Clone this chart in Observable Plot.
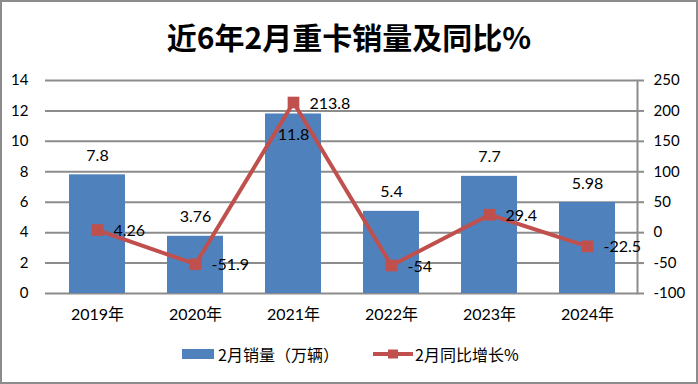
<!DOCTYPE html>
<html><head><meta charset="utf-8">
<script src="https://cdn.jsdelivr.net/npm/d3@7"></script>
<script src="https://cdn.jsdelivr.net/npm/@observablehq/plot@0.6"></script>
<style>
body{margin:0;background:#fff;}
#wrap{position:relative;width:698px;height:384px;overflow:hidden;background:#fff;font-family:Lato,"Noto Sans CJK SC",sans-serif;color:#000;}
#frame{position:absolute;left:0;top:0;width:698px;height:384px;box-sizing:border-box;border:2px solid #8c8c8c;pointer-events:none;}
#title{position:absolute;left:0;top:0;width:698px;height:72px;line-height:72px;text-align:center;font-family:"Noto Sans CJK SC",sans-serif;font-weight:bold;font-size:30px;}
#chart{position:absolute;left:0;top:60px;}
#legend{position:absolute;left:0;top:340px;width:698px;height:28px;font-family:"Noto Sans CJK SC",sans-serif;font-size:16px;}
.item{position:absolute;top:0;height:28px;line-height:28px;display:flex;align-items:center;white-space:nowrap;}
</style></head>
<body>
<div id="wrap">
  <div id="title">近6年2月重卡销量及同比%</div>
  <div id="chart"></div>
  <div id="legend"></div>
  <div id="frame"></div>
</div>
<script>
const years = ["2019年","2020年","2021年","2022年","2023年","2024年"];
const sales = [7.8, 3.76, 11.8, 5.4, 7.7, 5.98];
const growth = [4.26, -51.9, 213.8, -54, 29.4, -22.5];
const leftTicks = [0, 2, 4, 6, 8, 10, 12, 14];
const rightTicks = [-100, -50, 0, 50, 100, 150, 200, 250];
const seriesNames = ["2月销量（万辆）", "2月同比增长%"];
const barColor = "#4F81BD";
const lineColor = "#C0504D";
const gridColor = "#8c8c8c";

const toLeft = d3.scaleLinear([-100, 250], [0, 14]);
const rows = years.map((y, i) => ({year: y, sales: sales[i], growth: growth[i], g: toLeft(growth[i])}));

const chart = Plot.plot({
  width: 698,
  height: 280,
  marginTop: 20,
  marginBottom: 47,
  marginLeft: 47,
  marginRight: 61,
  style: {fontFamily: 'Lato, "Noto Sans CJK SC", sans-serif', fontSize: "15px", color: "#000", background: "transparent"},
  x: {domain: years, paddingInner: 0.43, paddingOuter: 0.215, label: null},
  y: {domain: [0, 14], label: null},
  marks: [
    Plot.ruleY(leftTicks, {stroke: gridColor, strokeWidth: 2, insetLeft: -2}),
    Plot.frame({anchor: "right", stroke: gridColor, strokeWidth: 2}),
    Plot.barY(rows, {x: "year", y: "sales", fill: barColor}),
    Plot.line(rows, {x: "year", y: "g", stroke: lineColor, strokeWidth: 4}),
    Plot.dot(rows, {x: "year", y: "g", symbol: "square", r: 6.6, fill: lineColor, stroke: null}),
    Plot.text(rows.filter(d => d.sales < 10), {x: "year", y: "sales", text: d => String(d.sales), dy: -19, fontSize: 16, fill: "#000"}),
    Plot.text(rows.filter(d => d.sales >= 10), {x: "year", y: "sales", text: d => String(d.sales), dy: 21, fontSize: 16, fill: "#000"}),
    Plot.text(rows, {x: "year", y: "g", text: d => String(d.growth), textAnchor: "start", dx: 16, dy: 1, fontSize: 16, fill: "#000"}),
    Plot.axisY({anchor: "left", ticks: leftTicks, tickSize: 0, tickPadding: 19, tickFormat: d => String(d), fontSize: 15, label: null}),
    Plot.axisY({anchor: "right", ticks: rightTicks.map(v => toLeft(v)), tickSize: 6, tickPadding: 10, stroke: gridColor, strokeWidth: 2, tickFormat: v => String(Math.round(toLeft.invert(v))), fontSize: 15, label: null}),
    Plot.axisX({anchor: "bottom", tickSize: 0, tickPadding: 15, fontSize: 16, label: null})
  ]
});
document.getElementById("chart").appendChild(chart);

const legend = document.getElementById("legend");
legend.innerHTML = `
  <div class="item" style="left:182px"><span style="display:inline-block;width:32px;height:10px;background:${barColor};margin-right:4px"></span>${seriesNames[0]}</div>
  <div class="item" style="left:373px"><svg width="40" height="14" style="margin-right:2px"><line x1="0" x2="40" y1="7" y2="7" stroke="${lineColor}" stroke-width="4"/><rect x="15" y="2.5" width="10" height="9" fill="${lineColor}"/></svg>${seriesNames[1]}</div>`;
</script>
</body></html>
